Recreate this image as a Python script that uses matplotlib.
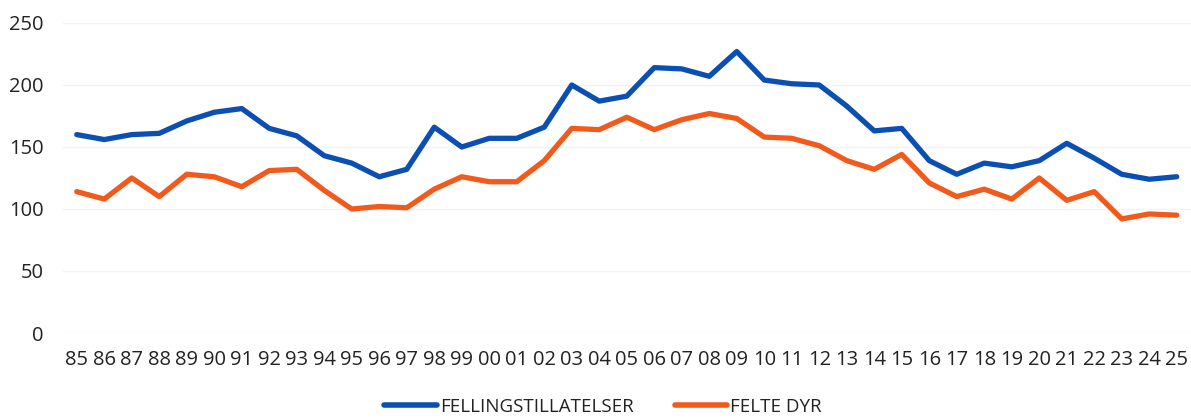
import matplotlib
matplotlib.use("Agg")
import matplotlib.pyplot as plt

years = ["85","86","87","88","89","90","91","92","93","94","95","96","97","98","99",
         "00","01","02","03","04","05","06","07","08","09","10","11","12","13","14",
         "15","16","17","18","19","20","21","22","23","24","25"]
fellingstillatelser = [160,156,160,161,171,178,181,165,159,143,137,126,132,166,150,
                       157,157,166,200,187,191,214,213,207,227,204,201,200,183,163,
                       165,139,128,137,134,139,153,141,128,124,126]
felte_dyr = [114,108,125,110,128,126,118,131,132,115,100,102,101,116,126,
             122,122,139,165,164,174,164,172,177,173,158,157,151,139,132,
             144,121,110,116,108,125,107,114,92,96,95]
yticks = [0, 50, 100, 150, 200, 250]

plt.rcParams['font.family'] = ['Open Sans', 'DejaVu Sans']

W, H = 1191, 419
fig = plt.figure(figsize=(W/100, H/100), dpi=100)
left = 63 / W
width = 1127.5 / W
bottom = (H - 333) / H
height = 310 / H
ax = fig.add_axes([left, bottom, width, height])

x = list(range(len(years)))
ax.plot(x, fellingstillatelser, color='#0b4fb3', lw=3.8, solid_joinstyle='round',
        solid_capstyle='round', label='FELLINGSTILLATELSER', zorder=3)
ax.plot(x, felte_dyr, color='#f25a1c', lw=3.8, solid_joinstyle='round',
        solid_capstyle='round', label='FELTE DYR', zorder=3)

ax.set_xlim(-0.5, len(years) - 0.5)
ax.set_ylim(0, 250)
ax.set_yticks(yticks)
ax.set_yticklabels([str(v) for v in yticks])
ax.set_xticks(x)
ax.set_xticklabels(years)
ax.tick_params(axis='both', length=0, labelsize=14.5, colors='#222222')
ax.tick_params(axis='y', pad=14)
ax.tick_params(axis='x', pad=12)
ax.grid(axis='y', color='#f3f3f3', lw=1)
for s in ax.spines.values():
    s.set_visible(False)

leg = fig.legend(loc='center', bbox_to_anchor=(603/W, 1 - 407/H), ncol=2, frameon=False,
                 fontsize=13.5, handlelength=2.8, handletextpad=0.15, columnspacing=2.2)
for line in leg.get_lines():
    line.set_linewidth(4)
for t in leg.get_texts():
    t.set_color('#222222')

fig.savefig('out.png', dpi=100)
